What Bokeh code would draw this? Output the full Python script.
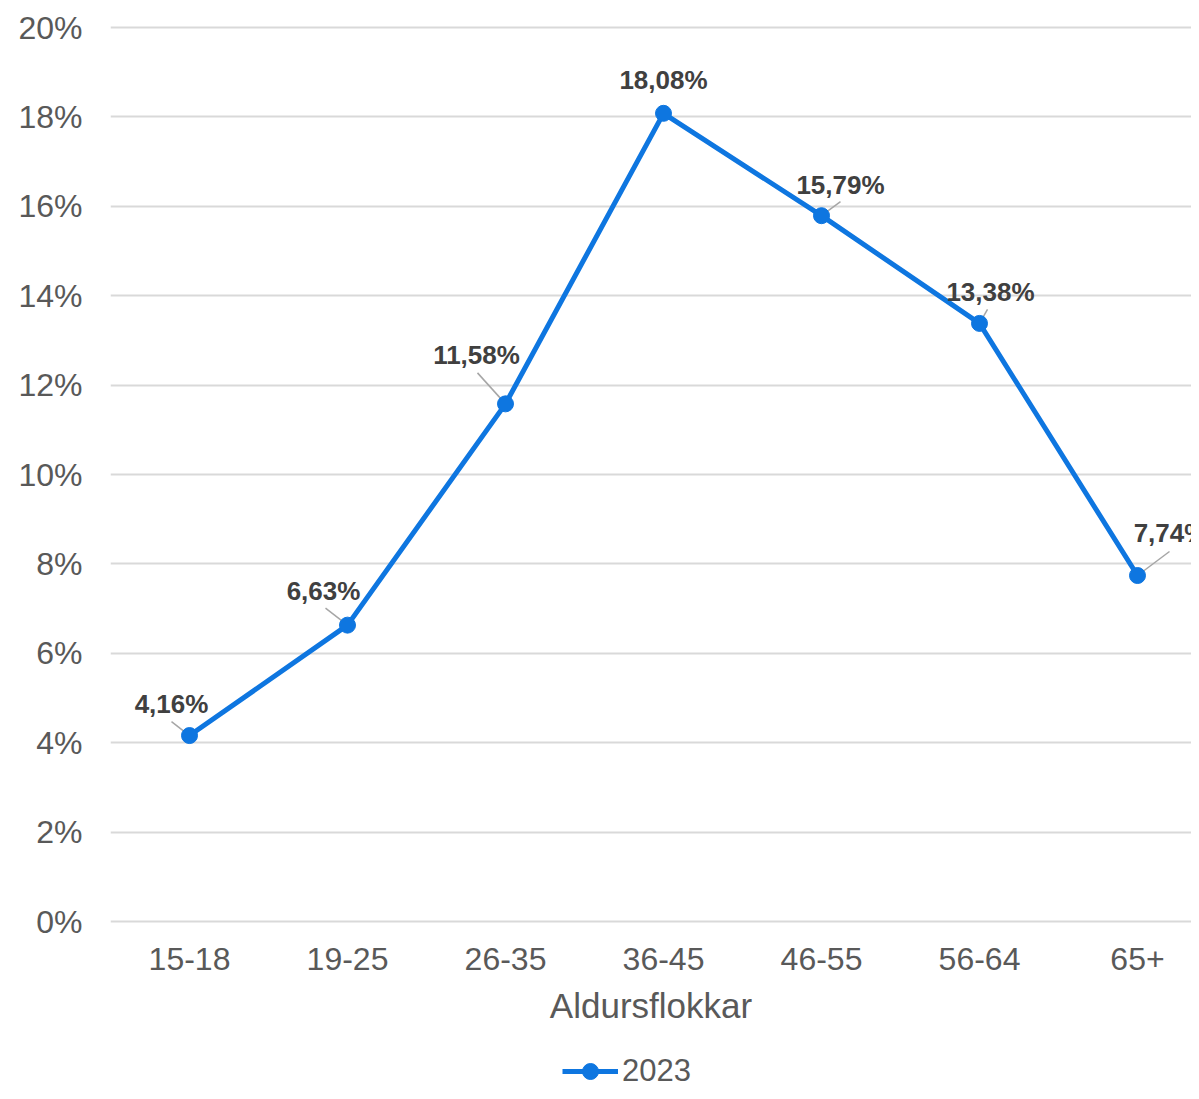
from bokeh.plotting import figure
from bokeh.layouts import column
from bokeh.models import (Range1d, FixedTicker, PrintfTickFormatter, Legend,
                          LegendItem, ColumnDataSource)
from bokeh.core.properties import value
from bokeh.embed import file_html
from bokeh.resources import INLINE

# ---- data ----
categories = ["15-18", "19-25", "26-35", "36-45", "46-55", "56-64", "65+"]
series_name = "2023"
values = [4.16, 6.63, 11.58, 18.08, 15.79, 13.38, 7.74]
y_ticks = [0, 2, 4, 6, 8, 10, 12, 14, 16, 18, 20]
x_title = "Aldursflokkar"

# ---- label placement (screen px, y up) ----
label_dx = [-18, -24, -29, 0, 19, 11, 33]
label_dy = [32, 34, 49, 33, 31, 31, 43]
leader_dx = [-18, -22, -28, None, 19, 8, 32]
leader_dy = [14, 17, 31, None, 14, 14, 24]

BLUE = "#0E76E0"
GREY_TXT = "#595959"
FONT = "Liberation Sans"

W = 1191
TOTAL_H = 1091
PX_X = 158.0
PX_Y = 44.7
PAD = 2  # px of room above/below the outer grid lines
ML, MT, MB = 110, 27 - PAD, 117
FRAME_H = int(round(PX_Y * (y_ticks[-1] - y_ticks[0]))) + 2 * PAD
FRAME_W = W - ML
MAIN_H = MT + FRAME_H + MB
LEG_H = TOTAL_H - MAIN_H
X_START = -0.5
X_END = X_START + FRAME_W / PX_X
Y_START = y_ticks[0] - PAD / PX_Y
Y_END = y_ticks[-1] + PAD / PX_Y

p = figure(frame_width=FRAME_W, frame_height=FRAME_H, output_backend="svg",
           toolbar_location=None,
           x_range=Range1d(X_START, X_END), y_range=Range1d(Y_START, Y_END),
           min_border_left=ML, min_border_top=MT, min_border_right=0,
           min_border_bottom=MB)
p.outline_line_color = None
p.background_fill_color = "white"
p.border_fill_color = "white"

xs = list(range(len(categories)))

# axes
p.xaxis.ticker = FixedTicker(ticks=xs)
p.xaxis.major_label_overrides = {i: c for i, c in enumerate(categories)}
p.yaxis.ticker = FixedTicker(ticks=y_ticks)
p.yaxis.formatter = PrintfTickFormatter(format="%d%%")
for ax in (p.xaxis, p.yaxis):
    ax.axis_line_color = None
    ax.major_tick_line_color = None
    ax.minor_tick_line_color = None
    ax.major_tick_out = 0
    ax.major_tick_in = 0
    ax.major_label_text_font = FONT
    ax.major_label_text_font_size = "32px"
    ax.major_label_text_color = GREY_TXT
p.yaxis.major_label_standoff = 28
p.xaxis.major_label_standoff = 24
p.xaxis.axis_label = x_title
p.xaxis.axis_label_text_font = FONT
p.xaxis.axis_label_text_font_size = "35px"
p.xaxis.axis_label_text_font_style = "normal"
p.xaxis.axis_label_text_color = GREY_TXT
p.xaxis.axis_label_standoff = 13

p.xgrid.grid_line_color = None
p.ygrid.grid_line_color = "#D9D9D9"
p.ygrid.grid_line_width = 2

# leader lines
lx0, ly0, lx1, ly1 = [], [], [], []
for i, v in enumerate(values):
    if leader_dx[i] is None:
        continue
    lx0.append(i + leader_dx[i] / PX_X)
    ly0.append(v + leader_dy[i] / PX_Y)
    lx1.append(i)
    ly1.append(v)
p.segment(x0=lx0, y0=ly0, x1=lx1, y1=ly1, line_color="#A6A6A6", line_width=1.5)

# series
src = ColumnDataSource(dict(x=xs, y=values))
p.line("x", "y", source=src, line_color=BLUE, line_width=5)
p.scatter("x", "y", source=src, size=16, fill_color=BLUE, line_color=BLUE)

# data labels
lab = ColumnDataSource(dict(
    x=[i + label_dx[i] / PX_X for i in xs],
    y=[v + label_dy[i] / PX_Y for i, v in enumerate(values)],
    t=[("%.2f" % v).replace(".", ",") + "%" for v in values],
))
p.text("x", "y", text="t", source=lab, text_align="center", text_baseline="middle",
       text_font=value(FONT), text_font_style="bold", text_font_size="26px",
       text_color="#404040")

# ---- legend strip below the chart (frame aligned with the chart's frame) ----
lg = figure(width=W, height=LEG_H, output_backend="svg", toolbar_location=None,
            x_range=Range1d(X_START, X_END), y_range=Range1d(100, 101),
            x_axis_type=None, y_axis_type=None,
            min_border_left=0, min_border_right=0, min_border_top=0,
            min_border_bottom=0)
lg.outline_line_color = None
lg.xgrid.grid_line_color = None
lg.ygrid.grid_line_color = None
lg.background_fill_color = "white"
lg.border_fill_color = "white"
l_line = lg.line("x", "y", source=src, line_color=BLUE, line_width=5)
l_circ = lg.scatter("x", "y", source=src, size=16, fill_color=BLUE, line_color=BLUE)

legend = Legend(items=[LegendItem(label=series_name, renderers=[l_line, l_circ])],
                location=(452, 0), orientation="horizontal")
legend.border_line_color = None
legend.background_fill_alpha = 0
legend.padding = 0
legend.margin = 0
legend.glyph_width = 56
legend.glyph_height = 40
legend.label_standoff = 4
legend.label_text_font = FONT
legend.label_text_font_size = "31px"
legend.label_text_color = GREY_TXT
lg.add_layout(legend, "center")

layout = column(p, lg, spacing=0)
open("out.html", "w").write(file_html(layout, INLINE))
